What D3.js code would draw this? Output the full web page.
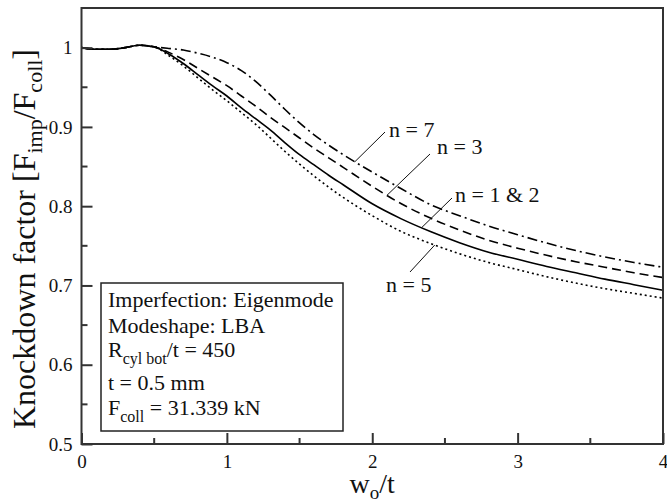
<!DOCTYPE html>
<html>
<head>
<meta charset="utf-8">
<script src="https://cdn.jsdelivr.net/npm/d3@7"></script>
<style>
body { margin: 0; background: #fff; }
text { font-family: "Liberation Serif", "Times New Roman", serif; fill: #111; }
</style>
</head>
<body>
<svg id="chart" width="667" height="503"></svg>
<script>
// w0/t positions shared by all curves
var wo = [0, 0.1, 0.2, 0.3, 0.4, 0.5, 0.6, 0.7, 0.8, 0.9, 1.0, 1.1, 1.2, 1.3, 1.4, 1.5,
          1.6, 1.7, 1.8, 2.0, 2.2, 2.4, 2.6, 2.8, 3.0, 3.2, 3.4, 3.6, 3.8, 4.0];

// knockdown factor
var n7  = [1.000, 0.998, 0.998, 1.000, 1.003, 1.001, 0.999, 0.997, 0.993, 0.988, 0.981, 0.971, 0.957, 0.940, 0.922, 0.905,
           0.890, 0.877, 0.865, 0.843, 0.822, 0.802, 0.788, 0.775, 0.764, 0.7535, 0.744, 0.736, 0.729, 0.723];
var n3  = [1.000, 0.998, 0.998, 1.000, 1.003, 1.001, 0.994, 0.985, 0.974, 0.963, 0.952, 0.939, 0.926, 0.912, 0.899, 0.886,
           0.873, 0.861, 0.849, 0.825, 0.803, 0.785, 0.770, 0.757, 0.747, 0.738, 0.730, 0.723, 0.716, 0.710];
var n12 = [1.000, 0.998, 0.998, 1.000, 1.003, 1.001, 0.992, 0.980, 0.966, 0.952, 0.939, 0.924, 0.910, 0.896, 0.880, 0.865,
           0.852, 0.839, 0.827, 0.803, 0.784, 0.768, 0.754, 0.742, 0.733, 0.724, 0.716, 0.708, 0.701, 0.694];
var n5  = [1.000, 0.998, 0.998, 1.000, 1.003, 1.001, 0.990, 0.977, 0.962, 0.947, 0.933, 0.918, 0.903, 0.886, 0.869, 0.853,
           0.838, 0.824, 0.811, 0.788, 0.768, 0.753, 0.740, 0.729, 0.720, 0.711, 0.703, 0.696, 0.690, 0.684];

var xTicks = [0, 1, 2, 3, 4];
var xTickLabels = ["0", "1", "2", "3", "4"];
var xMinor = [0.5, 1.5, 2.5, 3.5];
var yTicks = [0.5, 0.6, 0.7, 0.8, 0.9, 1.0];
var yTickLabels = ["0.5", "0.6", "0.7", "0.8", "0.9", "1"];
var yMinor = [0.55, 0.65, 0.75, 0.85, 0.95];

var svg = d3.select("#chart");
var plotL = 81.5, plotR = 663, plotT = 8, plotB = 444;

var x = d3.scaleLinear().domain([0, 4]).range([plotL, plotR]);
var y = d3.scaleLinear().domain([0.5, 1.05]).range([plotB, plotT]);

// curves
var series = [
    { vals: n7,  dash: "10,4,2,4" },
    { vals: n3,  dash: "9,5" },
    { vals: n12, dash: null },
    { vals: n5,  dash: "2,3" }
];
var line = d3.line()
    .x(function(d, i) { return x(wo[i]); })
    .y(function(d) { return y(d); })
    .curve(d3.curveMonotoneX);

svg.selectAll("path.curve").data(series).enter()
    .append("path")
    .attr("class", "curve")
    .attr("d", function(s) { return line(s.vals); })
    .attr("fill", "none")
    .attr("stroke", "#000")
    .attr("stroke-width", 1.6)
    .attr("stroke-dasharray", function(s) { return s.dash; });

// frame
svg.append("rect")
    .attr("x", plotL).attr("y", plotT)
    .attr("width", plotR - plotL).attr("height", plotB - plotT)
    .attr("fill", "none").attr("stroke", "#333").attr("stroke-width", 2);

// inward ticks
var xAxis = d3.axisBottom(x).tickValues(xTicks)
    .tickFormat(function(d, i) { return xTickLabels[i]; })
    .tickSizeInner(-11).tickSizeOuter(0).tickPadding(11);
var gx = svg.append("g").attr("transform", "translate(0," + plotB + ")").call(xAxis);
gx.select(".domain").remove();
gx.selectAll("line").attr("stroke", "#333").attr("stroke-width", 2);
gx.selectAll("text").attr("font-size", 19).attr("fill", "#111");

svg.selectAll("line.xminor").data(xMinor).enter().append("line")
    .attr("x1", function(d) { return x(d); }).attr("x2", function(d) { return x(d); })
    .attr("y1", plotB).attr("y2", plotB - 6)
    .attr("stroke", "#333").attr("stroke-width", 2);

var yAxis = d3.axisLeft(y).tickValues(yTicks)
    .tickFormat(function(d, i) { return yTickLabels[i]; })
    .tickSizeInner(-11).tickSizeOuter(0).tickPadding(9);
var gy = svg.append("g").attr("transform", "translate(" + plotL + ",0)").call(yAxis);
gy.select(".domain").remove();
gy.selectAll("line").attr("stroke", "#333").attr("stroke-width", 2);
gy.selectAll("text").attr("font-size", 19).attr("fill", "#111");

svg.selectAll("line.yminor").data(yMinor).enter().append("line")
    .attr("x1", plotL).attr("x2", plotL + 6)
    .attr("y1", function(d) { return y(d); }).attr("y2", function(d) { return y(d); })
    .attr("stroke", "#333").attr("stroke-width", 2);

// axis titles
var xt = svg.append("text").attr("x", x(2)).attr("y", 493)
    .attr("text-anchor", "middle").attr("font-size", 28);
xt.append("tspan").text("w");
xt.append("tspan").attr("font-size", 19).attr("dy", 6).text("o");
xt.append("tspan").attr("dy", -6).text("/t");

var yt = svg.append("text")
    .attr("transform", "translate(35,239) rotate(-90)")
    .attr("text-anchor", "middle").attr("font-size", 32);
yt.append("tspan").text("Knockdown factor [F");
yt.append("tspan").attr("font-size", 22).attr("dy", 7).text("imp");
yt.append("tspan").attr("dy", -7).text("/F");
yt.append("tspan").attr("font-size", 22).attr("dy", 7).text("coll");
yt.append("tspan").attr("dy", -7).text("]");

// curve labels with leader lines
var labels = [
    { text: "n = 7",     v: 1.88, val: 0.856,  tx: 389, ty: 137, lx: 385, ly: 132 },
    { text: "n = 3",     v: 2.10, val: 0.8135, tx: 437, ty: 154, lx: 430, ly: 154 },
    { text: "n = 1 & 2", v: 2.34, val: 0.773,  tx: 455, ty: 202, lx: 452, ly: 198 },
    { text: "n = 5",     v: 2.43, val: 0.751,  tx: 386, ty: 292, lx: 410, ly: 272 }
];
labels.forEach(function(l) {
    svg.append("line")
        .attr("x1", x(l.v)).attr("y1", y(l.val))
        .attr("x2", l.lx).attr("y2", l.ly)
        .attr("stroke", "#111").attr("stroke-width", 1);
    svg.append("text").attr("x", l.tx).attr("y", l.ty)
        .attr("font-size", 22).text(l.text);
});

// info box
svg.append("rect")
    .attr("x", 101).attr("y", 283).attr("width", 242).attr("height", 148)
    .attr("fill", "#fff").attr("stroke", "#222").attr("stroke-width", 1.5);

var bx = 108;
svg.append("text").attr("x", bx).attr("y", 307).attr("font-size", 22).text("Imperfection: Eigenmode");
svg.append("text").attr("x", bx).attr("y", 333).attr("font-size", 22).text("Modeshape: LBA");
var r = svg.append("text").attr("x", bx).attr("y", 357).attr("font-size", 22);
r.append("tspan").text("R");
r.append("tspan").attr("font-size", 16).attr("dy", 7).text("cyl bot");
r.append("tspan").attr("dy", -7).text("/t = 450");
svg.append("text").attr("x", bx).attr("y", 390).attr("font-size", 22).text("t = 0.5 mm");
var f = svg.append("text").attr("x", bx).attr("y", 415).attr("font-size", 22);
f.append("tspan").text("F");
f.append("tspan").attr("font-size", 16).attr("dy", 7).text("coll");
f.append("tspan").attr("dy", -7).text(" = 31.339 kN");
</script>
</body>
</html>
